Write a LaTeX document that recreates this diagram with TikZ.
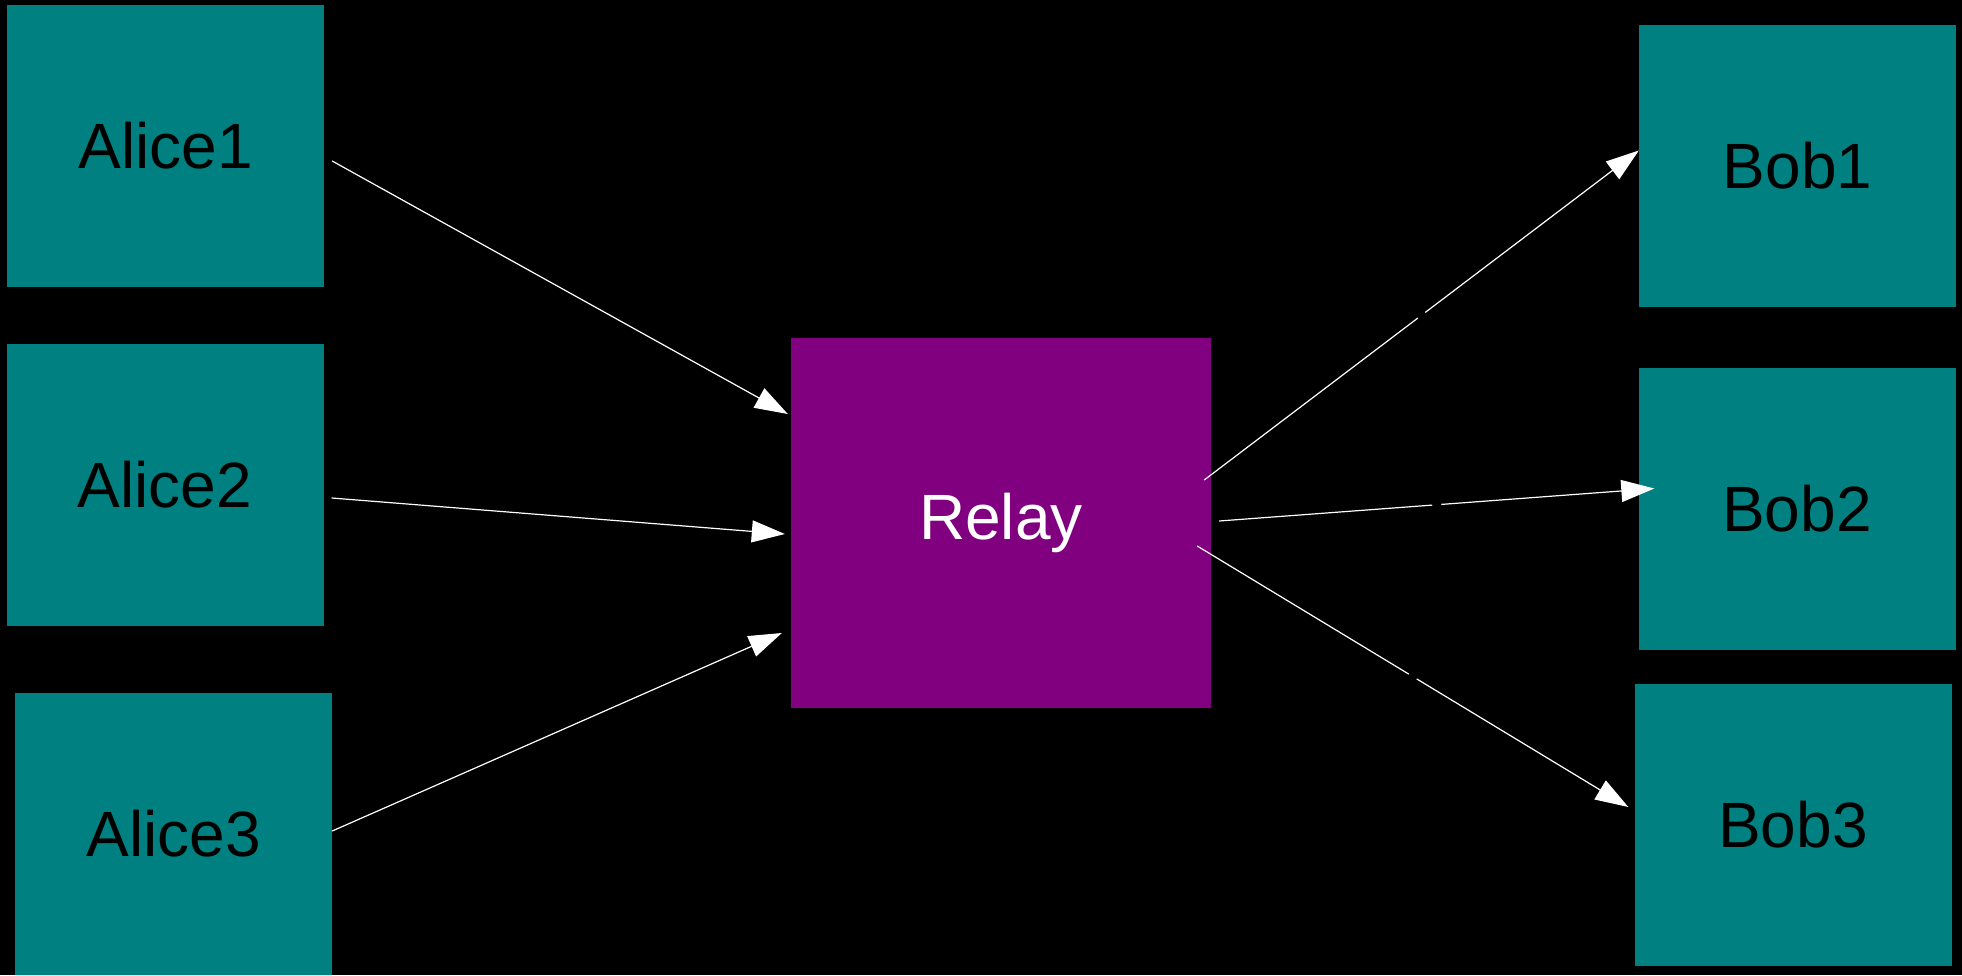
\documentclass[tikz,border=0pt]{standalone}
\usepackage{fontspec}
\setmainfont{Liberation Sans}
\usetikzlibrary{arrows.meta,calc}
\definecolor{tealbox}{HTML}{008080}
\definecolor{relaybox}{HTML}{800080}
\begin{document}
\begin{tikzpicture}[x=1pt,y=-1pt,
  party/.style={fill=tealbox,draw=none,inner sep=0pt,minimum width=317pt,minimum height=282pt,
    font=\fontsize{64}{76}\selectfont,text=black},
  hub/.style={fill=relaybox,draw=none,inner sep=0pt,minimum width=420pt,minimum height=370pt,
    font=\fontsize{64}{76}\selectfont,text=white},
  link/.style={draw=white,line width=1.2pt,-{Triangle[length=33pt,width=22pt]}},
  gap/.style={fill=black,draw=none,inner sep=0pt,minimum width=9pt,minimum height=5pt,sloped}]
  % canvas
  \fill[black] (0,0) rectangle (1962,975);
  \useasboundingbox (0,0) rectangle (1962,975);

  % senders
  \node[party] (a1) at (165.5,146) {Alice1};
  \node[party] (a2) at (165,485) {Alice2};
  \node[party] (a3) at (173.5,834) {Alice3};
  % relay
  \node[hub] (relay) at (1001,523) {Relay};
  % receivers
  \node[party] (b1) at (1797.5,165.5) {Bob1};
  \node[party] (b2) at (1797,508.5) {Bob2};
  \node[party] (b3) at (1793,825) {Bob3};

  % incoming links
  \draw[link] ($(a1.east)+(8,15)$) -- ($(relay.west)+(-3,-109)$);
  \draw[link] ($(a2.east)+(8,13)$) -- ($(relay.west)+(-6,11)$);
  \draw[link] ($(a3.east)+(0,-3)$) -- ($(relay.west)+(-9,110)$);
  % outgoing links
  \draw[link] ($(relay.east)+(-7,-43)$) -- node[gap,pos=0.5]{} ($(b1.west)+(0,-15)$);
  \draw[link] ($(relay.east)+(8,-2)$) -- node[gap,pos=0.5]{} ($(b2.west)+(16,-20)$);
  \draw[link] ($(relay.east)+(-14,23)$) -- node[gap,pos=0.5]{} ($(b3.west)+(-6,-18)$);
\end{tikzpicture}
\end{document}
